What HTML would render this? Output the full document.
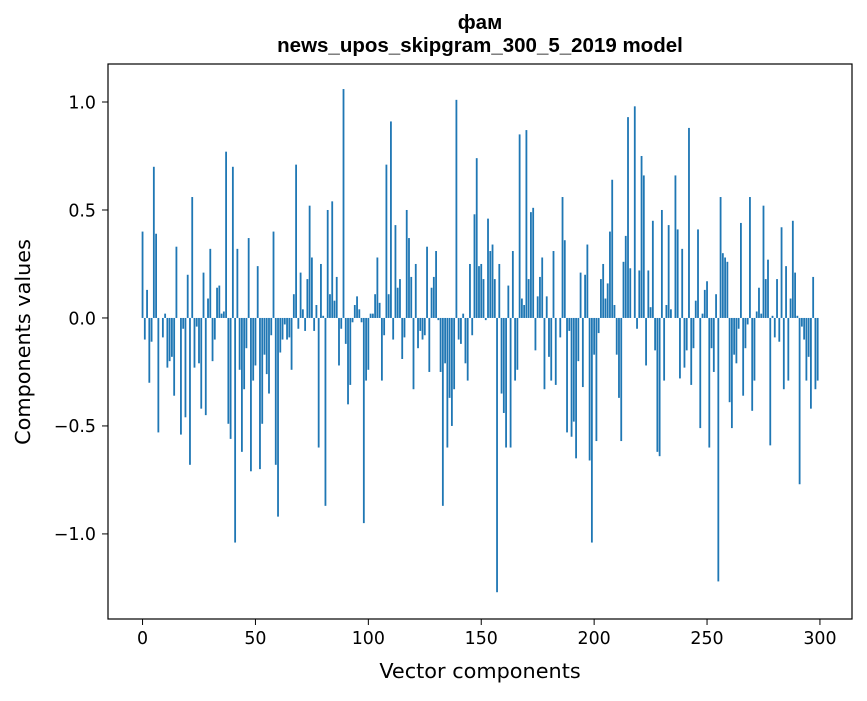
<!DOCTYPE html>
<html><head><meta charset="utf-8"><style>
body{margin:0;background:#fff;}
svg text{font-family:"DejaVu Sans","Liberation Sans",sans-serif;}
svg text.title{font-family:"Liberation Sans","DejaVu Sans",sans-serif;}
</style></head><body>
<svg id="chart" width="867" height="696" xmlns="http://www.w3.org/2000/svg">
<rect width="867" height="696" fill="#fff"/>
<text class="title" x="480" y="29" text-anchor="middle" font-size="20.5" font-weight="bold">фам</text>
<text class="title" x="480" y="52" text-anchor="middle" font-size="20.5" font-weight="bold">news_upos_skipgram_300_5_2019 model</text>
<g id="bars"></g>
<g id="axes"></g>
<rect x="108" y="64" width="744" height="555" fill="none" stroke="#000" stroke-width="1.2"/>
<text x="480" y="678" text-anchor="middle" font-size="20.8">Vector components</text>
<text transform="translate(30,342) rotate(-90)" text-anchor="middle" font-size="20.8">Components values</text>
</svg>
<script>
const values = [0.40,-0.10,0.13,-0.30,-0.11,0.70,0.39,-0.53,0.00,-0.09,0.02,-0.23,-0.20,-0.18,-0.36,0.33,0.00,-0.54,-0.05,-0.46,
0.20,-0.68,0.56,-0.23,-0.04,-0.21,-0.42,0.21,-0.45,0.09,0.32,-0.20,-0.10,0.14,0.15,0.02,0.03,0.77,-0.49,-0.56,
0.70,-1.04,0.32,-0.24,-0.62,-0.33,-0.14,0.37,-0.71,-0.29,-0.22,0.24,-0.70,-0.49,-0.17,-0.26,-0.35,-0.08,0.40,-0.68,
-0.92,-0.16,-0.10,-0.03,-0.10,-0.09,-0.24,0.11,0.71,-0.05,0.21,0.04,-0.06,0.18,0.52,0.28,-0.06,0.06,-0.60,0.25,
0.01,-0.87,0.50,0.11,0.54,0.08,0.19,-0.22,-0.05,1.06,-0.12,-0.40,-0.31,-0.02,0.06,0.10,0.04,-0.02,-0.95,-0.29,
-0.24,0.02,0.02,0.11,0.28,0.07,-0.29,-0.08,0.71,0.11,0.91,-0.10,0.43,0.14,0.18,-0.19,-0.09,0.50,0.37,0.19,
-0.33,0.25,-0.14,-0.06,-0.10,-0.08,0.33,-0.25,0.14,0.19,0.31,-0.01,-0.25,-0.87,-0.21,-0.60,-0.37,-0.50,-0.33,1.01,
-0.10,-0.12,0.02,-0.21,-0.29,0.25,-0.08,0.48,0.74,0.24,0.25,0.18,-0.01,0.46,0.31,0.34,0.18,-1.27,0.25,-0.35,
-0.44,-0.60,0.15,-0.60,0.31,-0.29,-0.24,0.85,0.09,0.06,0.87,0.18,0.49,0.51,-0.15,0.10,0.19,0.28,-0.33,0.10,
-0.18,-0.29,0.31,-0.31,0.00,-0.09,0.56,0.36,-0.53,-0.06,-0.55,-0.48,-0.65,-0.20,0.21,-0.32,0.20,0.34,-0.66,-1.04,
-0.17,-0.57,-0.07,0.18,0.25,0.09,0.16,0.40,0.64,0.06,-0.17,-0.37,-0.57,0.26,0.38,0.93,0.23,0.00,0.98,-0.05,
0.22,0.75,0.66,-0.22,0.22,0.05,0.45,-0.15,-0.62,-0.64,0.50,-0.29,0.06,0.43,0.04,0.00,0.66,0.41,-0.28,0.32,
-0.23,-0.15,0.88,-0.31,-0.14,0.08,0.41,-0.51,0.02,0.13,0.17,-0.60,-0.14,-0.25,0.11,-1.22,0.56,0.30,0.28,0.26,
-0.39,-0.51,-0.17,-0.21,-0.05,0.44,-0.36,-0.14,-0.03,0.56,-0.43,-0.29,0.03,0.14,0.02,0.52,0.18,0.27,-0.59,0.01,
-0.09,0.18,-0.11,0.42,-0.33,0.24,-0.29,0.09,0.45,0.21,0.01,-0.77,-0.04,-0.10,-0.29,-0.18,-0.42,0.19,-0.33,-0.29];
const xTicks = [0,50,100,150,200,250,300];
const yTicks = [1.0,0.5,0.0,-0.5,-1.0];
const yTickLabels = ["1.0","0.5","0.0","\u22120.5","\u22121.0"];
const NS="http://www.w3.org/2000/svg";
const X0=108,X1=852,Y0=64,Y1=619, xmin=-15.3,xmax=314.2, ymin=-1.394,ymax=1.176;
function xs(v){return X0+(v-xmin)/(xmax-xmin)*(X1-X0);}
function ys(v){return Y1-(v-ymin)/(ymax-ymin)*(Y1-Y0);}
const bars=document.getElementById('bars');
const bw=xs(0.8)-xs(0);
values.forEach((v,i)=>{
  const r=document.createElementNS(NS,'rect');
  
  
  const y=Math.min(ys(v),ys(0));
  r.setAttribute('x',xs(i)-bw/2);r.setAttribute('y',y);
  r.setAttribute('width',bw);r.setAttribute('height',Math.abs(ys(v)-ys(0)));
  r.setAttribute('fill','#1f77b4');
  bars.appendChild(r);
});
const ax=document.getElementById('axes');
xTicks.forEach(t=>{
  const l=document.createElementNS(NS,'line');
  
  
  l.setAttribute('x1',xs(t));l.setAttribute('x2',xs(t));l.setAttribute('y1',Y1);l.setAttribute('y2',Y1+6);
  l.setAttribute('stroke','#000');ax.appendChild(l);
  const tx=document.createElementNS(NS,'text');
  
  
  tx.setAttribute('x',xs(t));tx.setAttribute('y',Y1+25);tx.setAttribute('text-anchor','middle');tx.setAttribute('font-size','17.4');
  tx.textContent=t;ax.appendChild(tx);
});
yTicks.forEach((t,i)=>{
  const l=document.createElementNS(NS,'line');
  
  
  l.setAttribute('x1',X0-6);l.setAttribute('x2',X0);l.setAttribute('y1',ys(t));l.setAttribute('y2',ys(t));
  l.setAttribute('stroke','#000');ax.appendChild(l);
  const tx=document.createElementNS(NS,'text');
  
  
  tx.setAttribute('x',X0-12);tx.setAttribute('y',ys(t)+6.3);tx.setAttribute('text-anchor','end');tx.setAttribute('font-size','17.4');
  tx.textContent=yTickLabels[i];ax.appendChild(tx);
});
</script>
</body></html>
